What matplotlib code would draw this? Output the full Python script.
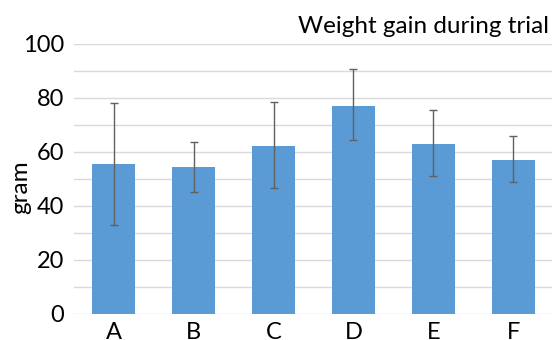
import numpy as np
import matplotlib
matplotlib.use("Agg")
import matplotlib.pyplot as plt

# values
groups = ["A", "B", "C", "D", "E", "F"]
gain = [55.4, 54.4, 62.3, 77.2, 62.8, 57.0]
err_low = [22.4, 9.2, 15.5, 12.9, 11.7, 8.1]
err_high = [22.6, 9.3, 16.3, 13.5, 12.8, 8.9]

plt.rcParams["font.family"] = ["Lato", "DejaVu Sans"]

fig = plt.figure(figsize=(5.52, 3.40), dpi=100)
ax = fig.add_axes([74 / 552, 26 / 340, 479 / 552, 270 / 340])

x = np.arange(len(groups))
ax.bar(x, gain, width=0.54, color="#5b9bd5", zorder=2)
ax.errorbar(x, gain, yerr=[err_low, err_high], fmt="none", ecolor="#606060",
            elinewidth=1.0, capsize=3, capthick=1.0, zorder=3)

ax.set_xlim(-0.5, len(groups) - 0.5)
ax.set_ylim(0, 100)
ax.set_yticks(np.arange(0, 101, 20))
ax.set_yticks(np.arange(10, 100, 20), minor=True)
ax.set_xticks(x)
ax.set_xticklabels(groups)
ax.grid(axis="y", which="both", color="#d9d9d9", linewidth=1.0, zorder=0)
ax.tick_params(axis="both", which="both", length=0, labelsize=17)
ax.tick_params(axis="y", pad=7)
ax.tick_params(axis="x", pad=6)
for s in ax.spines.values():
    s.set_visible(False)

fig.text(298 / 552, 1 - 33 / 340, "Weight gain during trial", fontsize=17.5,
         ha="left", va="baseline")
fig.text(21 / 552, 1 - 187 / 340, "gram", fontsize=17.5, rotation=90,
         ha="center", va="center")

fig.savefig("out.png", dpi=100)
